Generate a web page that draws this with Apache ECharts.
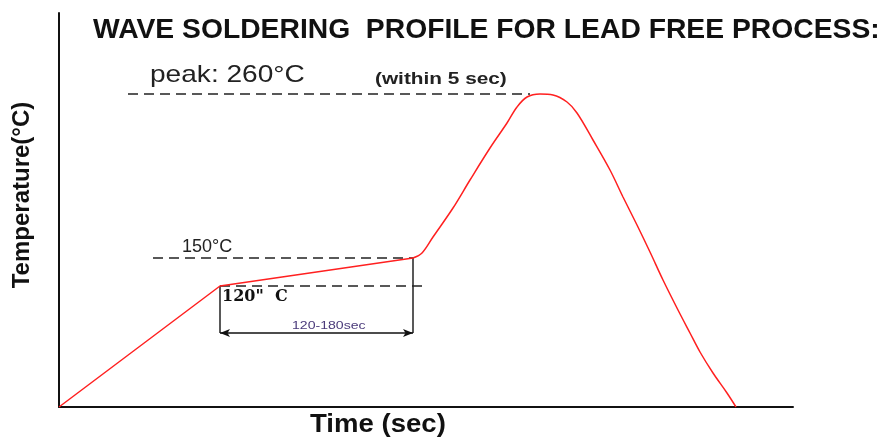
<!DOCTYPE html>
<html>
<head>
<meta charset="utf-8">
<script src="https://cdn.jsdelivr.net/npm/echarts@6/dist/echarts.min.js"></script>
<style>
html,body{margin:0;padding:0;background:#fff;}
#chart{width:886px;height:439px;}
</style>
</head>
<body>
<div id="chart"></div>
<script>
// Schematic profile, values in plot units (x: time, y: temperature)
// preheat ramp + soak (straight segments)
const soakX = [0,161,354];
const soakY = [0,121,149];
// reflow rise, peak and cooling (smooth)
const reflowX = [354,363,374,394,411,431,448,458,468,481,494,508,518,534,551,564,578,591,604,619,631,641,654,668,677];
const reflowY = [149,154,170,199,227,259,284,300,310,313,312,305,294,267,237,210,182,155,127,97,74,55,34,14,0];

// reference levels (plot units)
const peakLevel = 313, level150 = 149, level120 = 121, dimLevel = 74;
const peakLineX = [69, 471];
const line150X = [94, 354];
const line120X = [161, 369];
const soakStartX = 161, soakEndX = 354;

const titleText = 'WAVE SOLDERING  PROFILE FOR LEAD FREE PROCESS:';
const peakText = 'peak: 260°C';
const withinText = '(within 5 sec)';
const t150Text = '150°C';
const t120Text = '120"  C';
const soakText = '120-180sec';
const xName = 'Time (sec)';
const yName = 'Temperature(°C)';

const chart = echarts.init(document.getElementById('chart'));
const pair = (xs, y) => xs.map(x => [x, y]);
const zip = (xs, ys) => xs.map((x, i) => [x, ys[i]]);
const dashStyle = {color:'#222', width:1.5, type:[10,6]};
const redStyle = {color:'#ff2020', width:1.5};

chart.setOption({
  animation:false,
  grid:{left:59, top:13, width:734, height:394},
  xAxis:{type:'value', min:0, max:734,
    axisLine:{show:true, lineStyle:{color:'#111', width:2}},
    axisTick:{show:false}, axisLabel:{show:false}, splitLine:{show:false}},
  yAxis:{type:'value', min:0, max:394,
    axisLine:{show:true, lineStyle:{color:'#111', width:2}},
    axisTick:{show:false}, axisLabel:{show:false}, splitLine:{show:false}},
  series:[
    {type:'line', data:pair(peakLineX, peakLevel), symbol:'none', lineStyle:dashStyle, z:1},
    {type:'line', data:pair(line150X, level150), symbol:'none', lineStyle:dashStyle, z:1},
    {type:'line', data:pair(line120X, level120), symbol:'none', lineStyle:dashStyle, z:1},
    {type:'line', data:[[soakStartX, level120],[soakStartX, dimLevel]], symbol:'none', lineStyle:{color:'#222', width:1.5}, z:2},
    {type:'line', data:[[soakEndX, level150],[soakEndX, dimLevel]], symbol:'none', lineStyle:{color:'#222', width:1.5}, z:2,
      markLine:{silent:true, symbol:['arrow','arrow'], symbolSize:[6,10], label:{show:false},
        lineStyle:{color:'#111', width:1.5, type:'solid'},
        data:[[{coord:[soakStartX, dimLevel]},{coord:[soakEndX, dimLevel]}]]}},
    {type:'line', data:zip(soakX, soakY), symbol:'none', smooth:false, lineStyle:redStyle, z:5},
    {type:'line', data:zip(reflowX, reflowY), symbol:'none', smooth:0.35, lineStyle:redStyle, z:5}
  ],
  graphic:[
    {type:'text', x:93, y:16, scaleX:1.01, style:{text:titleText, font:'bold 28px "Liberation Sans", Arial', fill:'#111'}},
    {type:'text', x:150, y:63, scaleX:1.17, style:{text:peakText, font:'24px "Liberation Sans", Arial', fill:'#222'}},
    {type:'text', x:375, y:72, scaleX:1.3, style:{text:withinText, font:'bold 16px "Liberation Sans", Arial', fill:'#222'}},
    {type:'text', x:182, y:238, style:{text:t150Text, font:'18px "Liberation Sans", Arial', fill:'#222'}},
    {type:'text', x:222, y:289, style:{text:t120Text, font:'bold 16px "DejaVu Serif", serif', fill:'#111'}},
    {type:'text', x:292, y:320, scaleX:1.28, style:{text:soakText, font:'11px "Liberation Sans", Arial', fill:'#4a3a7a'}},
    {type:'text', x:310, y:412, scaleX:1.06, style:{text:xName, font:'bold 26px "Liberation Sans", Arial', fill:'#111'}},
    {type:'text', x:22, y:195, rotation:Math.PI/2, style:{text:yName, font:'bold 24px "Liberation Sans", Arial', fill:'#111', align:'center', verticalAlign:'middle'}}
  ]
});
</script>
</body>
</html>
